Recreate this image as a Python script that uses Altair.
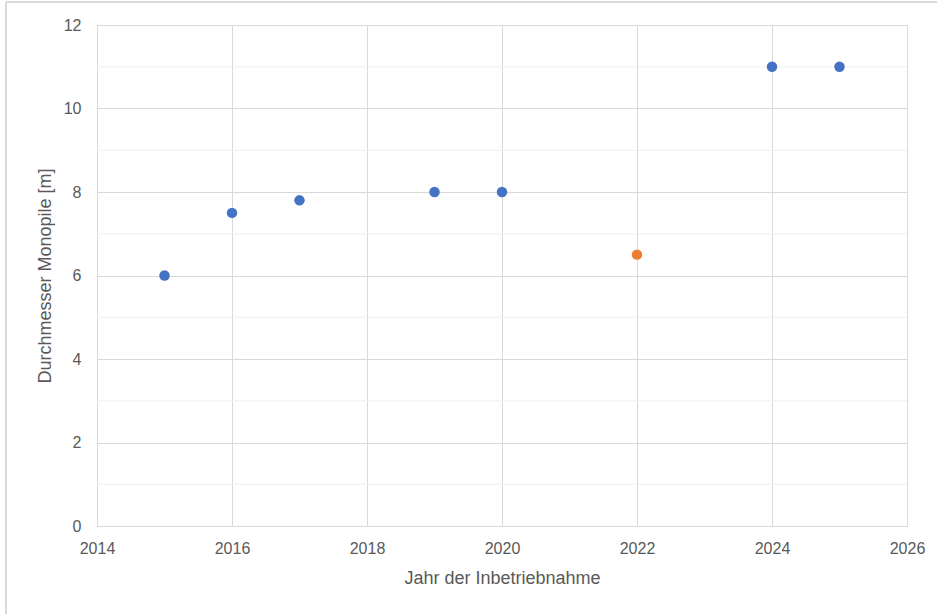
import altair as alt
import pandas as pd

# Inbetriebnahme-Jahr und Monopile-Durchmesser je Projekt
jahre = [2015, 2016, 2017, 2019, 2020, 2022, 2024, 2025]
durchmesser = [6.0, 7.5, 7.8, 8.0, 8.0, 6.5, 11.0, 11.0]
reihe = ["a", "a", "a", "a", "a", "b", "a", "a"]

x_ticks = [2014, 2016, 2018, 2020, 2022, 2024, 2026]
y_ticks = [0, 2, 4, 6, 8, 10, 12]
y_minor = [1, 3, 5, 7, 9, 11]

farben = {"a": "#4472C4", "b": "#ED7D31"}

df = pd.DataFrame({"jahr": jahre, "d": durchmesser, "reihe": reihe})
minor_df = pd.DataFrame({"d": y_minor})

FONT = "Liberation Sans"
GREY = "#595959"

x_scale = alt.Scale(domain=[2014, 2026], nice=False, zero=False)
y_scale = alt.Scale(domain=[0, 12], nice=False)

y_axis = alt.Axis(
    values=y_ticks,
    title="Durchmesser Monopile [m]",
    labelPadding=16,
    titlePadding=9,
)

# feine Hilfslinien bei ungeraden Werten
minor = alt.Chart(minor_df).mark_rule(color="#f0f0f0", strokeWidth=1).encode(
    y=alt.Y("d:Q", scale=y_scale, axis=y_axis)
)

points = alt.Chart(df).mark_circle(size=110, opacity=1).encode(
    x=alt.X(
        "jahr:Q",
        scale=x_scale,
        axis=alt.Axis(
            values=x_ticks,
            format="d",
            title="Jahr der Inbetriebnahme",
            labelPadding=14,
            titlePadding=13,
        ),
    ),
    y=alt.Y("d:Q", scale=y_scale, axis=y_axis),
    color=alt.Color(
        "reihe:N",
        scale=alt.Scale(domain=list(farben.keys()), range=list(farben.values())),
        legend=None,
    ),
)

# dünner Rahmen um die gesamte Grafik (oben und links sichtbar)
frame_top = alt.Chart(minor_df).mark_rule(color="#d9d9d9", strokeWidth=1).encode(
    x=alt.value(-91), x2=alt.value(900), y=alt.value(-23)
)
frame_left = alt.Chart(minor_df).mark_rule(color="#d9d9d9", strokeWidth=1).encode(
    x=alt.value(-91), y=alt.value(-23), y2=alt.value(700)
)

chart = (
    alt.layer(minor, points, frame_top, frame_left)
    .properties(
        width=810,
        height=501,
        autosize=alt.AutoSizeParams(type="none"),
        padding={"left": 97, "top": 25, "right": 30, "bottom": 88},
        background="white",
    )
    .configure_view(stroke="#d9d9d9", strokeWidth=1)
    .configure_axis(
        grid=True,
        gridColor="#d9d9d9",
        gridWidth=1,
        domain=False,
        ticks=False,
        labelFont=FONT,
        labelFontSize=16,
        labelColor=GREY,
        titleFont=FONT,
        titleFontSize=18,
        titleFontWeight="normal",
        titleColor=GREY,
        labelFlush=False,
    )
)

chart.save("out.html", embed_options={"renderer": "svg", "actions": False})
